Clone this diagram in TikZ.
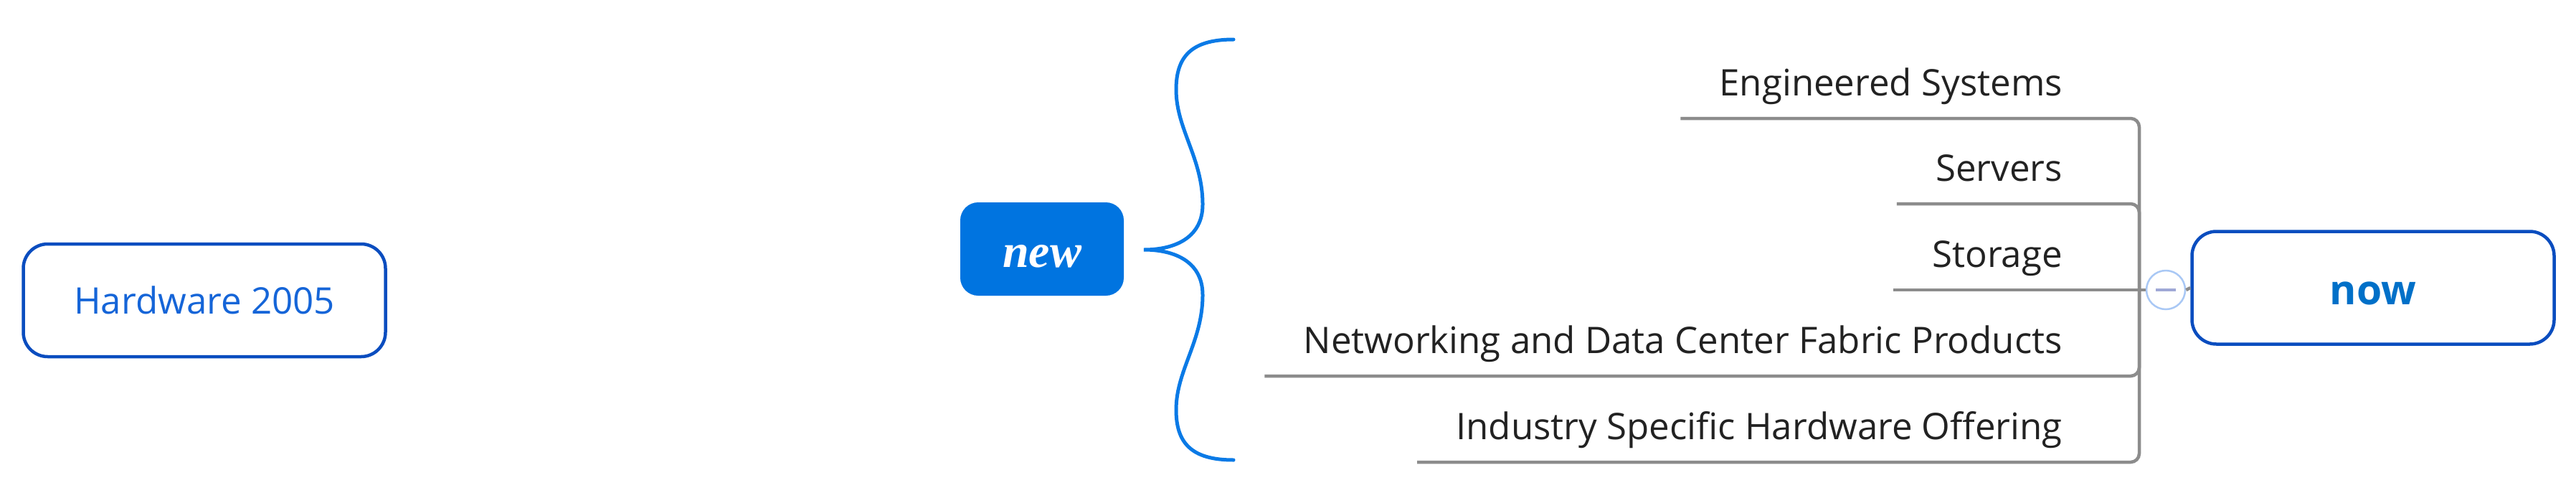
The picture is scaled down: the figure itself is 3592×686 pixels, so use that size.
\documentclass[tikz,border=0pt]{standalone}
\usepackage{fontspec}
\setmainfont{Open Sans}
\newfontfamily\serifbi{Liberation Serif}
\usetikzlibrary{calc}
\definecolor{boxblue}{HTML}{0A4DBF}
\definecolor{hwblue}{HTML}{1565D8}
\definecolor{nowblue}{HTML}{0070C8}
\definecolor{newblue}{HTML}{0074E0}
\definecolor{braceblue}{HTML}{0A7AE6}
\definecolor{linegray}{HTML}{8C8C8C}
\definecolor{branchgray}{HTML}{222222}
\definecolor{circblue}{HTML}{A9C8F5}
\definecolor{minusblue}{HTML}{9FA8D6}
\begin{document}
\begin{tikzpicture}[x=1pt,y=-1pt,
  topicbox/.style={draw=boxblue, line width=4.5pt, rounded corners=34pt, minimum width=505pt, minimum height=157pt, inner sep=0pt, fill=white},
  branchtext/.style={font=\fontsize{51}{60}\selectfont, text=branchgray, inner sep=0pt, anchor=base east},
  branchline/.style={draw=linegray, line width=4.5pt, rounded corners=12pt},
  bracestyle/.style={draw=braceblue, line width=5pt, line cap=round},
]
\path[use as bounding box, fill=white] (0,0) rectangle (3592,686);
\node[topicbox, text=hwblue, font=\fontsize{51}{60}\selectfont] (hw) at (285,418.5) {Hardware 2005};
\node[fill=newblue, rounded corners=25pt, minimum width=228pt, minimum height=130pt, inner sep=0pt, text=white, font=\serifbi\bfseries\itshape\fontsize{66}{70}\selectfont, text height=50pt, text depth=0pt] (new) at (1453,347) {new};
\draw[bracestyle] (1720,55) .. controls (1660,55) and (1640,80) .. (1640,125) .. controls (1640,180) and (1677,220) .. (1677,285) .. controls (1677,330) and (1640,348) .. (1595,348) .. controls (1640,348) and (1677,366) .. (1677,411) .. controls (1677,476) and (1640,516) .. (1640,571) .. controls (1640,616) and (1660,641) .. (1720,641);
\node[branchtext] (es) at (2876,133) {Engineered Systems};
\node[branchtext] (sv) at (2876,252) {Servers};
\node[branchtext] (st) at (2876,372) {Storage};
\node[branchtext] (nw) at (2876,492) {Networking and Data Center Fabric Products};
\node[branchtext] (is) at (2876,612) {Industry Specific Hardware Offering};
\coordinate (hub) at (2983,404);
\draw[branchline] ($(es.base west)+(-54,32)$) -| (hub);
\draw[branchline] ($(sv.base west)+(-54,32)$) -| (hub);
\draw[branchline] ($(st.base west)+(-54,32)$) -- (hub);
\draw[branchline] ($(nw.base west)+(-54,32)$) -| (hub);
\draw[branchline] ($(is.base west)+(-54,32)$) -| (hub);
\node[topicbox, text=nowblue, font=\bfseries\fontsize{57}{60}\selectfont, text height=47pt, text depth=0pt] (now) at (3309,401) {now};
\node[circle, draw=circblue, fill=white, line width=2.5pt, minimum size=54pt, inner sep=0pt] (col) at (3020,404) {};
\draw[branchline] (hub) -- (col.west);
\draw[branchline] (col.east) -- (now.west);
\draw[draw=minusblue, line width=4pt] ($(col.center)+(-14,0)$) -- ($(col.center)+(14,0)$);
\end{tikzpicture}
\end{document}
